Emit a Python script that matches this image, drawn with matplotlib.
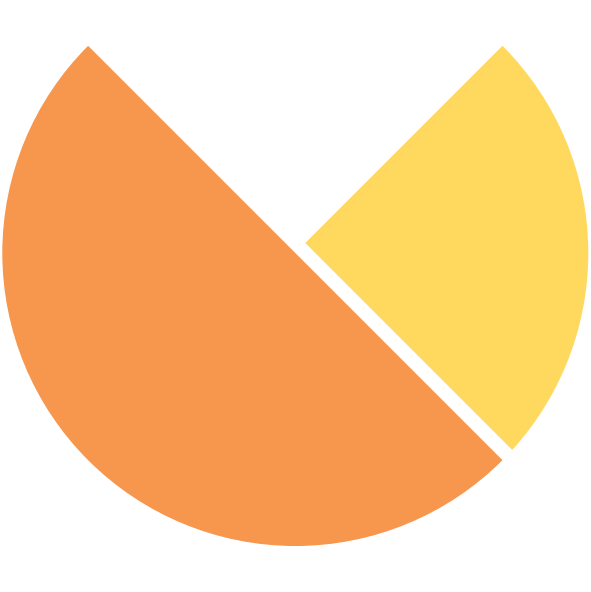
import matplotlib
matplotlib.use("Agg")
import matplotlib.pyplot as plt

# Data
categories = ["Orange", "Yellow", "Hidden"]
values = [50, 25, 25]
colors = ["#F7964D", "#FED95E", "none"]

W, H, DPI = 5.91, 5.92, 100
fig = plt.figure(figsize=(W, H), dpi=DPI)
ax = fig.add_axes([0, 0, 1, 1])

R_PX = 293.0          # pie radius in pixels
CX, CY = 295.3, 253.0  # pie centre in pixels (from top-left)

# Base pie: orange gets a thick white edge that carves the gap into yellow
wedges, _ = ax.pie(values, colors=colors, startangle=135, counterclock=True,
                   radius=1.0, wedgeprops=dict(linewidth=0))
for w in wedges:
    w.set_zorder(1)
wedges[0].set_edgecolor("white")
wedges[0].set_linewidth(28.3 * 72 / DPI)
wedges[0].set_joinstyle("miter")
wedges[0].set_zorder(2)

# Redraw orange on top without edge
top_colors = [colors[0], "none", "none"]
w2, _ = ax.pie(values, colors=top_colors, startangle=135, counterclock=True,
               radius=1.0, wedgeprops=dict(linewidth=0))
for w in w2:
    w.set_zorder(3)

ax.set_aspect("auto")
ax.set_xlim(-CX / R_PX, (W * DPI - CX) / R_PX)
ax.set_ylim(-(H * DPI - CY) / R_PX, CY / R_PX)
ax.axis("off")

fig.savefig("out.png", dpi=DPI, facecolor="white")
